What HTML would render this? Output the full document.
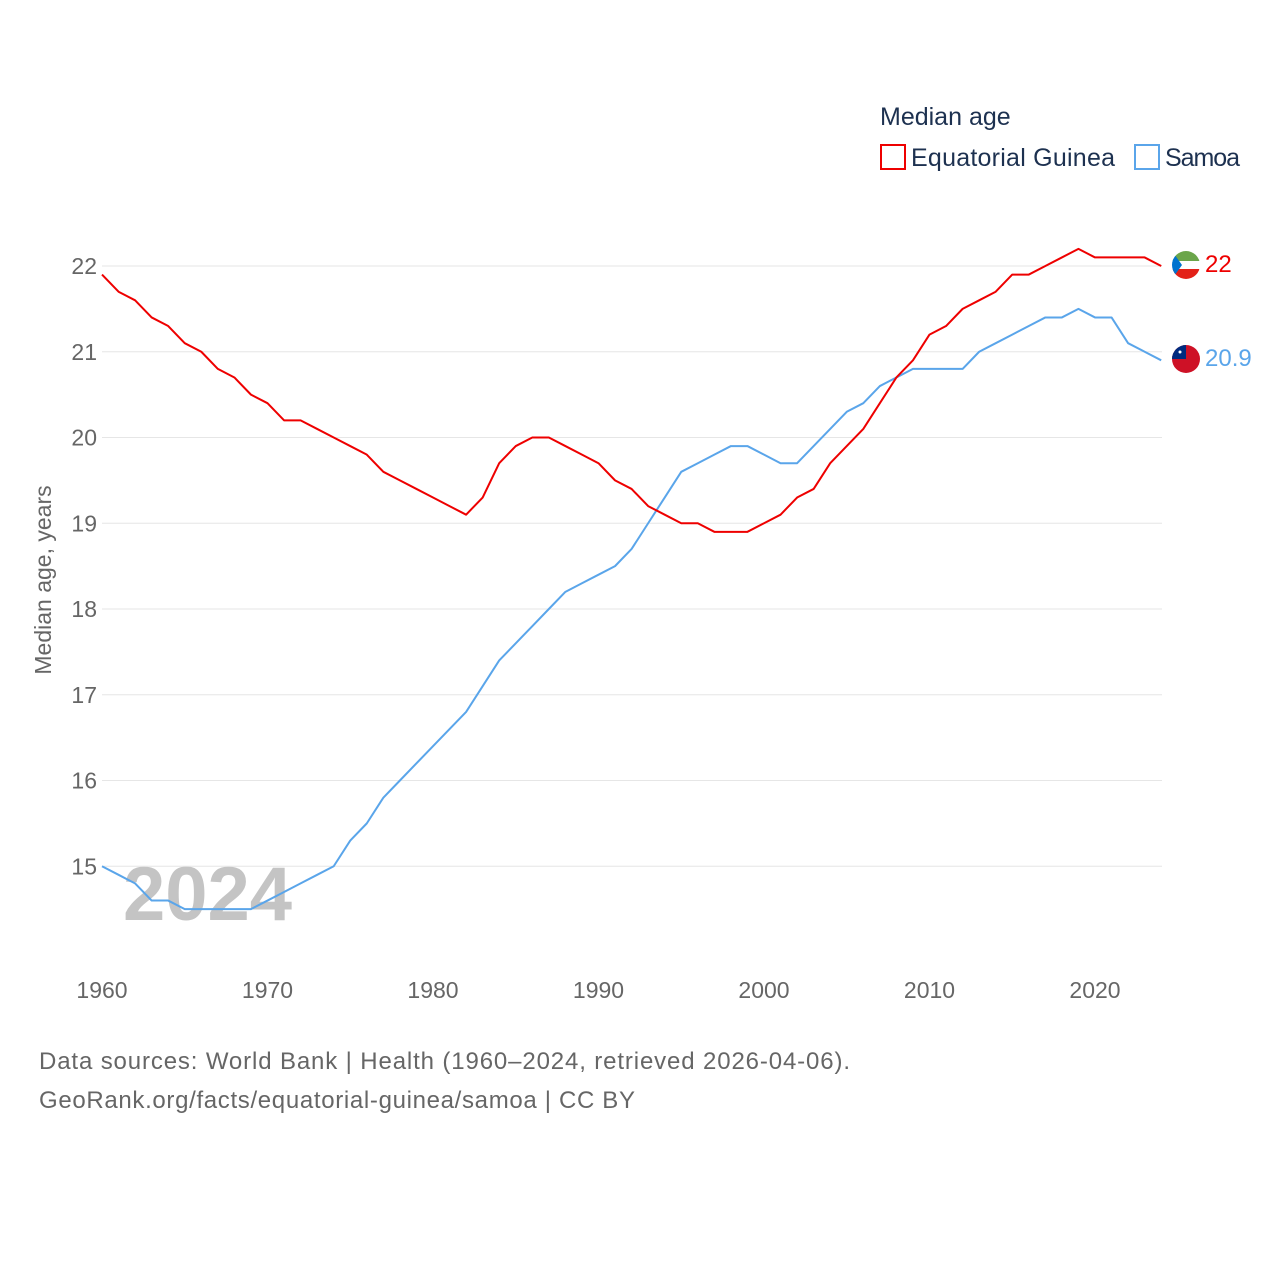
<!DOCTYPE html>
<html><head><meta charset="utf-8"><style>
html,body{margin:0;padding:0;background:#fff;width:1280px;height:1280px;overflow:hidden}
text{font-family:"Liberation Sans",sans-serif}
</style></head><body>
<svg id="chart" width="1280" height="1280" xmlns="http://www.w3.org/2000/svg">
<text x="880" y="125" font-size="25" fill="#1d3150">Median age</text>
<g>
<rect x="881" y="145" width="24" height="24" fill="none" stroke="#e00" stroke-width="2"/>
<text x="911" y="166" font-size="25" fill="#1d3150" textLength="204">Equatorial Guinea</text></g>
<g>
<rect x="1135" y="145" width="24" height="24" fill="none" stroke="#5aa5ea" stroke-width="2"/>
<text x="1165" y="166" font-size="25" fill="#1d3150" textLength="75">Samoa</text></g>
<text x="123" y="920" font-size="76" font-weight="bold" fill="#c4c4c4">2024</text>
<text transform="translate(51,580) rotate(-90)" text-anchor="middle" font-size="23" fill="#666">Median age, years</text>
<g id="grid"></g><g id="lines"></g>
<g>
<clipPath id="c1"><circle cx="1186" cy="265" r="14"/></clipPath>
<g clip-path="url(#c1)"><rect x="1172" y="251" width="28" height="10" fill="#6ba54a"/><rect x="1172" y="261" width="28" height="8" fill="#fff"/><rect x="1172" y="269" width="28" height="10" fill="#e32118"/><polygon points="1172,251 1182,265 1172,279" fill="#0073ce"/></g></g>
<g>
<clipPath id="c2"><circle cx="1186" cy="359" r="14"/></clipPath>
<g clip-path="url(#c2)"><rect x="1172" y="345" width="28" height="28" fill="#ce1126"/><rect x="1172" y="345" width="14" height="14" fill="#002b7f"/><circle cx="1180" cy="352" r="1.5" fill="#fff"/></g></g>
<text x="1205" y="272" font-size="24" fill="#e00">22</text>
<text x="1205" y="366" font-size="24" fill="#5aa5ea">20.9</text>
<text x="39" y="1069" font-size="24" fill="#666" textLength="811">Data sources: World Bank | Health (1960–2024, retrieved 2026-04-06).</text>
<text x="39" y="1108" font-size="24" fill="#666" textLength="596">GeoRank.org/facts/equatorial-guinea/samoa | CC BY</text>
</svg>
<script>
const years=[];for(let y=1960;y<=2024;y++)years.push(y);
const guinea=[21.9,21.7,21.6,21.4,21.3,21.1,21.0,20.8,20.7,20.5,20.4,20.2,20.2,20.1,20.0,19.9,19.8,19.6,19.5,19.4,19.3,19.2,19.1,19.3,19.7,19.9,20.0,20.0,19.9,19.8,19.7,19.5,19.4,19.2,19.1,19.0,19.0,18.9,18.9,18.9,19.0,19.1,19.3,19.4,19.7,19.9,20.1,20.4,20.7,20.9,21.2,21.3,21.5,21.6,21.7,21.9,21.9,22.0,22.1,22.2,22.1,22.1,22.1,22.1,22.0];
const samoa=[15.0,14.9,14.8,14.6,14.6,14.5,14.5,14.5,14.5,14.5,14.6,14.7,14.8,14.9,15.0,15.3,15.5,15.8,16.0,16.2,16.4,16.6,16.8,17.1,17.4,17.6,17.8,18.0,18.2,18.3,18.4,18.5,18.7,19.0,19.3,19.6,19.7,19.8,19.9,19.9,19.8,19.7,19.7,19.9,20.1,20.3,20.4,20.6,20.7,20.8,20.8,20.8,20.8,21.0,21.1,21.2,21.3,21.4,21.4,21.5,21.4,21.4,21.1,21.0,20.9];
const yTicks=[15,16,17,18,19,20,21,22];
const xTicks=[1960,1970,1980,1990,2000,2010,2020];
const X=y=>102+(y-1960)*16.55;
const Y=v=>266+(22-v)*85.75;
const NS="http://www.w3.org/2000/svg";
const grid=document.getElementById('grid'),lines=document.getElementById('lines');
function mk(t,a,p){const e=document.createElementNS(NS,t);for(const k in a)e.setAttribute(k,a[k]);p.appendChild(e);return e;}
yTicks.forEach(v=>{
 const l=mk('line',{x1:102,x2:1162,y1:Y(v),y2:Y(v),stroke:'#e6e6e6','stroke-width':1},grid);
 
 
 const t=mk('text',{x:97,y:Y(v)+8,'text-anchor':'end','font-size':23,fill:'#666'},grid);t.textContent=v;
 
 
});
xTicks.forEach(v=>{
 const t=mk('text',{x:X(v),y:998,'text-anchor':'middle','font-size':23,fill:'#666'},grid);t.textContent=v;
 
 
});
function line(vals,col,name){
 const p=mk('polyline',{points:vals.map((v,i)=>X(years[i])+','+Y(v)).join(' '),fill:'none',stroke:col,'stroke-width':2,'stroke-linejoin':'round'},lines);
 
 
}
line(samoa,'#5aa5ea','line-samoa');
line(guinea,'#e00','line-equatorial-guinea');
</script>
</body></html>
